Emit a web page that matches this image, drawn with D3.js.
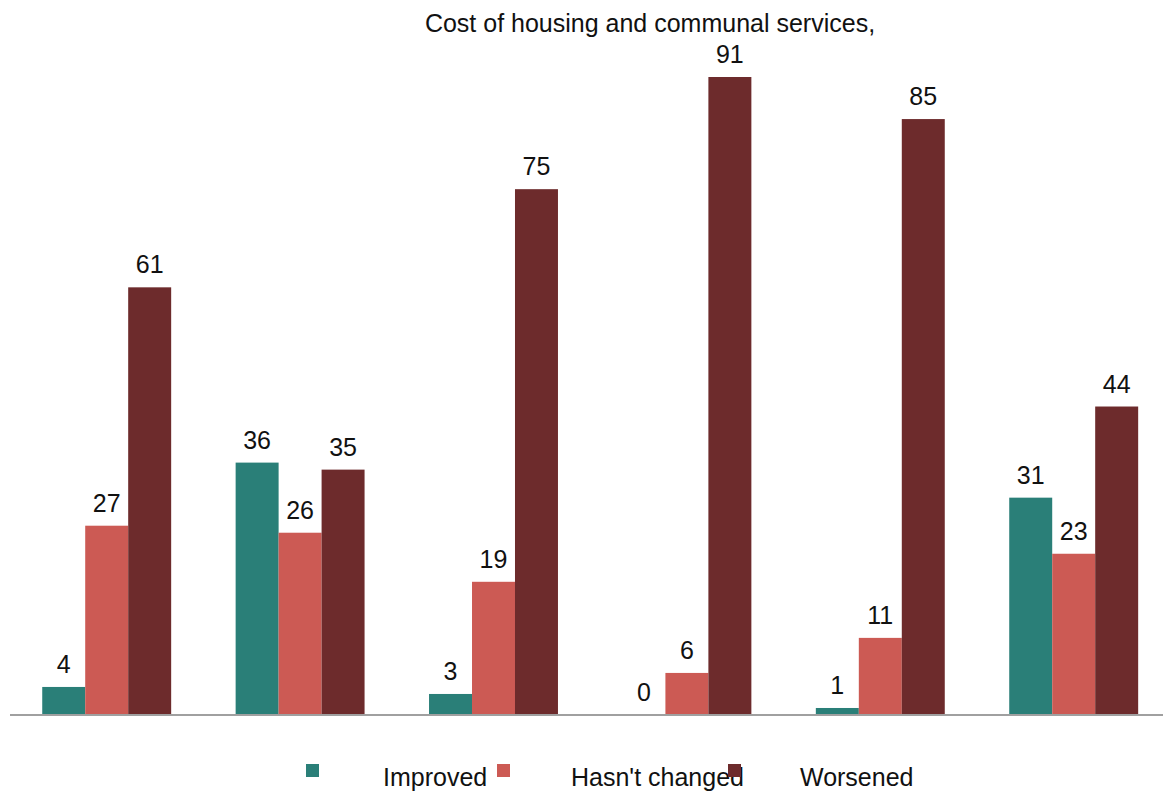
<!DOCTYPE html>
<html>
<head>
<meta charset="utf-8">
<script src="https://cdn.jsdelivr.net/npm/d3@7"></script>
<style>
  html, body { margin: 0; padding: 0; background: #ffffff; }
  svg { display: block; }
  text { font-family: "Liberation Sans", Arial, sans-serif; fill: #111; }
</style>
</head>
<body>
<svg id="chart" width="1163" height="792"></svg>
<script>
// Share of answers per group, in percent
const groups = ["g1", "g2", "g3", "g4", "g5", "g6"];
const seriesNames = ["Improved", "Hasn't changed", "Worsened"];
const improved = [4, 36, 3, 0, 1, 31];
const unchanged = [27, 26, 19, 6, 11, 23];
const worsened = [61, 35, 75, 91, 85, 44];
const colors = ["#2a7f78", "#cc5a54", "#6d2b2c"];
const titleText = "Cost of housing and communal services,";

const seriesValues = [improved, unchanged, worsened];

const svg = d3.select("#chart");
const width = 1163, height = 792;
const baseY = 715;

const x0 = d3.scaleBand()
  .domain(groups)
  .range([10, 10 + 6 * 193.4])
  .paddingInner(1 / 3)
  .paddingOuter(1 / 6);

const x1 = d3.scaleBand()
  .domain(seriesNames)
  .range([0, x0.bandwidth()])
  .padding(0);

const y = d3.scaleLinear()
  .domain([0, 91])
  .range([baseY, 77]);

// Title
svg.append("text")
  .attr("x", 650)
  .attr("y", 32)
  .attr("text-anchor", "middle")
  .attr("font-size", 25)
  .text(titleText);

// Bars and value labels
groups.forEach((g, gi) => {
  const grp = svg.append("g").attr("transform", `translate(${x0(g)},0)`);
  seriesNames.forEach((s, si) => {
    const v = seriesValues[si][gi];
    grp.append("rect")
      .attr("x", x1(s))
      .attr("y", y(v))
      .attr("width", x1.bandwidth())
      .attr("height", baseY - y(v))
      .attr("fill", colors[si]);
    grp.append("text")
      .attr("x", x1(s) + x1.bandwidth() / 2)
      .attr("y", y(v) - 14)
      .attr("text-anchor", "middle")
      .attr("font-size", 25)
      .text(v);
  });
});

// Baseline axis
const xAxis = d3.axisBottom(x0).tickSize(0).tickFormat("");
svg.append("g")
  .attr("transform", `translate(0,${baseY})`)
  .call(xAxis)
  .call(a => a.select(".domain")
    .attr("d", `M10,0H${width}`)
    .attr("stroke", "#a0a0a0")
    .attr("stroke-width", 2));

// Legend: labels first, swatches drawn on top
const legendItems = [
  { name: seriesNames[0], sq: 306, tx: 383 },
  { name: seriesNames[1], sq: 497, tx: 571 },
  { name: seriesNames[2], sq: 728, tx: 800 }
];
legendItems.forEach(d => {
  svg.append("text")
    .attr("x", d.tx)
    .attr("y", 786)
    .attr("font-size", 25)
    .text(d.name);
});
legendItems.forEach((d, i) => {
  svg.append("rect")
    .attr("x", d.sq)
    .attr("y", 764)
    .attr("width", 13)
    .attr("height", 13)
    .attr("fill", colors[i]);
});
</script>
</body>
</html>
